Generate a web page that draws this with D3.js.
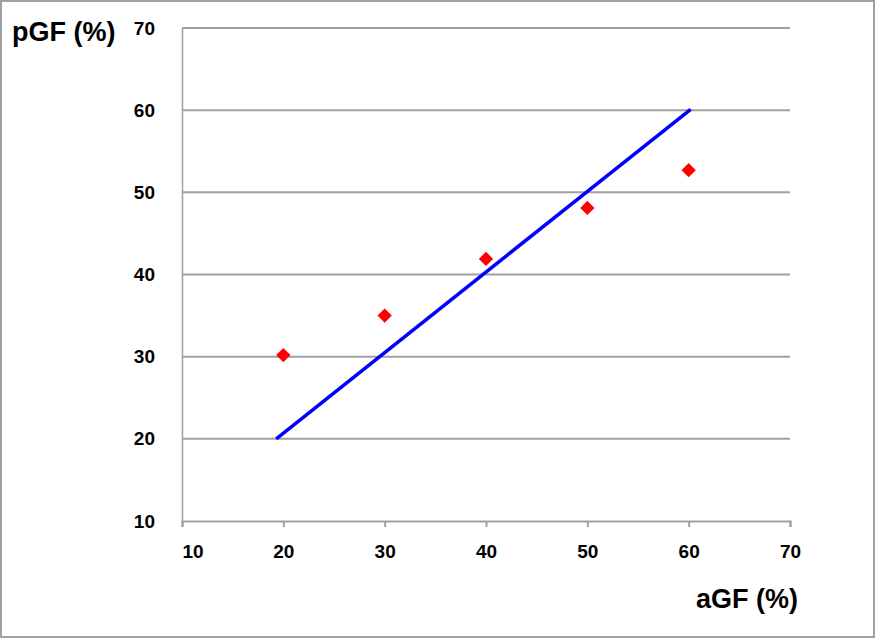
<!DOCTYPE html>
<html>
<head>
<meta charset="utf-8">
<script src="https://cdn.jsdelivr.net/npm/d3@7"></script>
<style>
  body { margin: 0; background: #fff; }
  text { font-family: "Liberation Sans", Arial, sans-serif; font-weight: bold; }
</style>
</head>
<body>
<div id="chart"></div>
<script>
// data
var aGF = [20, 30, 40, 50, 60];
var pGF = [30.2, 35.0, 41.9, 48.1, 52.7];
// reference line end points (x, y)
var lineX = [19.3, 60.2];
var lineY = [20, 60.1];
var ticks = [10, 20, 30, 40, 50, 60, 70];

(function () {
    "use strict";

    var width = 875, height = 639;
    var left = 182, right = 790, top = 28, bottom = 521;

    var svg = d3.select("#chart")
        .append("svg")
            .attr("width", width)
            .attr("height", height);

    // outer frame
    svg.append("rect")
        .attr("x", 1).attr("y", 1)
        .attr("width", width - 2).attr("height", height - 3)
        .attr("fill", "#fff")
        .attr("stroke", "#a0a0a0")
        .attr("stroke-width", 2);

    var x = d3.scaleLinear().domain([10, 70]).range([left, right]);
    var y = d3.scaleLinear().domain([10, 70]).range([bottom, top]);

    // horizontal gridlines
    svg.append("g")
        .selectAll("line")
        .data(ticks.slice(1))
        .enter().append("line")
            .attr("x1", left).attr("x2", right)
            .attr("y1", function (d) { return y(d); })
            .attr("y2", function (d) { return y(d); })
            .attr("stroke", "#a0a0a0")
            .attr("stroke-width", 2);

    // y axis (no ticks)
    var yAxis = svg.append("g")
        .attr("transform", "translate(" + left + ",0)")
        .call(d3.axisLeft(y).tickValues(ticks).tickSize(0).tickPadding(27));
    yAxis.select(".domain").attr("stroke", "#a0a0a0").attr("stroke-width", 1.5);
    yAxis.selectAll("text")
        .attr("font-size", 19)
        .attr("font-family", "Liberation Sans, Arial, sans-serif")
        .attr("font-weight", "bold")
        .attr("fill", "#000");

    // x axis
    var xAxis = svg.append("g")
        .attr("transform", "translate(0," + bottom + ")")
        .call(d3.axisBottom(x).tickValues(ticks).tickSizeInner(6).tickSizeOuter(6).tickPadding(18));
    xAxis.select(".domain").attr("stroke", "#a0a0a0").attr("stroke-width", 2);
    xAxis.selectAll(".tick line").attr("stroke", "#a0a0a0").attr("stroke-width", 2);
    xAxis.selectAll("text")
        .attr("font-size", 19)
        .attr("font-family", "Liberation Sans, Arial, sans-serif")
        .attr("font-weight", "bold")
        .attr("fill", "#000")
        .attr("text-anchor", function (d, i) { return i === 0 ? "start" : "middle"; });

    // reference line
    svg.append("line")
        .attr("x1", x(lineX[0])).attr("y1", y(lineY[0]))
        .attr("x2", x(lineX[1])).attr("y2", y(lineY[1]))
        .attr("stroke", "#0000ff")
        .attr("stroke-width", 3.5);

    // points
    svg.append("g")
        .selectAll("path")
        .data(aGF.map(function (d, i) { return [d, pGF[i]]; }))
        .enter().append("path")
            .attr("d", d3.symbol().type(d3.symbolDiamond2).size(130))
            .attr("transform", function (d) {
                return "translate(" + x(d[0]) + "," + y(d[1]) + ")";
            })
            .attr("fill", "#ff0000");

    // axis titles
    svg.append("text")
        .attr("x", 12).attr("y", 41)
        .attr("font-size", 27)
        .text("pGF (%)");

    svg.append("text")
        .attr("x", 798).attr("y", 608)
        .attr("text-anchor", "end")
        .attr("font-size", 27)
        .text("aGF (%)");

}());
</script>
</body>
</html>
